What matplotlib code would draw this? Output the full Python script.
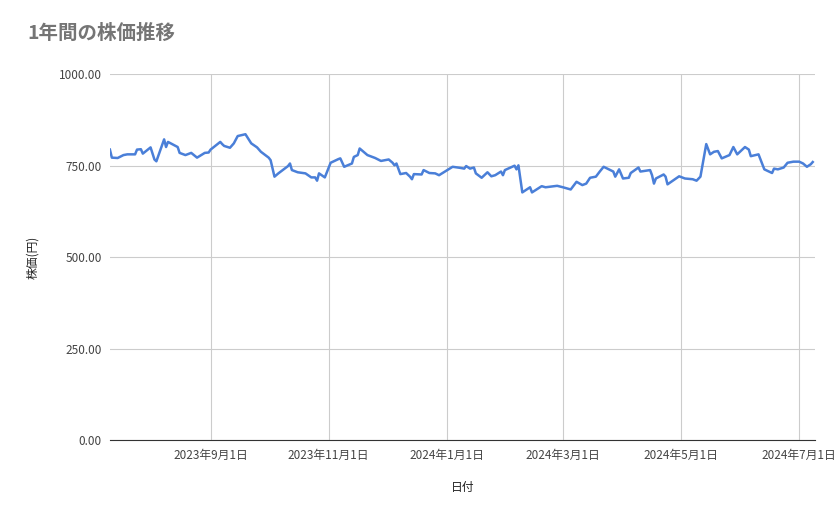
import matplotlib
matplotlib.use("Agg")
import matplotlib.pyplot as plt
import matplotlib.dates as mdates
import numpy as np
import datetime as dt

plt.rcParams['font.family'] = ['Noto Sans CJK JP', 'DejaVu Sans']

start_date = "2023-07-11"
day_offsets = [0,1,4,7,9,13,14,16,17,21,23,24,28,29,30,35,36,39,42,45,49,51,52,57,58,59,62,64,66,70,
               73,76,78,82,83,85,87,92,93,94,97,101,104,106,107,108,111,114,118,119,121,125,126,128,129,
               133,137,140,144,146,147,148,150,153,155,156,157,161,162,165,168,170,177,181,183,184,186,
               188,189,192,195,197,199,202,203,204,209,210,211,213,217,218,223,225,231,234,238,241,244,
               246,248,251,253,255,260,261,263,265,268,269,273,274,279,280,281,282,286,287,288,294,297,
               301,303,305,308,310,312,314,316,320,322,324,328,330,331,335,338,342,343,345,348,350,353,
               356,358,360,362,363]
prices = [794,772,771,779,781,781,794,795,783,800,767,762,822,801,815,801,785,779,785,772,785,786,794,815,809,804,799,811,831,836,
          811,800,788,772,765,720,729,749,756,738,732,729,718,718,709,729,718,758,768,770,747,756,774,779,797,
          779,771,763,767,758,751,756,727,730,720,713,727,726,738,730,729,724,747,744,742,749,742,
          745,729,717,732,721,724,734,724,738,750,740,751,677,691,677,694,691,695,691,685,706,697,
          701,717,720,734,747,734,720,740,715,717,730,745,734,738,724,701,715,726,720,699,721,715,
          713,709,720,809,781,788,790,770,779,801,781,801,794,776,781,740,730,742,740,745,758,761,
          761,756,747,754,760]

x_ticks = ["2023-09-01","2023-11-01","2024-01-01","2024-03-01","2024-05-01","2024-07-01"]
x_tick_labels = ["2023年9月1日","2023年11月1日","2024年1月1日","2024年3月1日","2024年5月1日","2024年7月1日"]
y_ticks = [0, 250, 500, 750, 1000]

s = dt.date.fromisoformat(start_date)
dates = [s + dt.timedelta(days=d) for d in day_offsets]

fig = plt.figure(figsize=(8.39, 5.19), dpi=100)
ax = fig.add_axes([0.131, 0.152, 0.84, 0.705])
ax.plot(dates, prices, color="#4a7fd8", lw=1.8)
ax.set_xlim(s - dt.timedelta(days=0.3), s + dt.timedelta(days=364.3))
ax.set_ylim(0, 1000)
ax.set_yticks(y_ticks)
ax.set_yticklabels([f"{v:.2f}" for v in y_ticks])
ax.set_xticks([dt.date.fromisoformat(t) for t in x_ticks])
ax.set_xticklabels(x_tick_labels)
ax.grid(True, color="#cccccc", lw=0.8)
ax.set_axisbelow(True)
for sp in ["top", "right", "left"]:
    ax.spines[sp].set_visible(False)
ax.spines["bottom"].set_color("#333333")
ax.tick_params(length=0, labelsize=8.5, colors="#444444", pad=6)
ax.set_xlabel("日付", fontsize=8.5, color="#222222", labelpad=14)
ax.set_ylabel("株価(円)", fontsize=8.5, color="#222222", labelpad=14)
fig.text(0.033, 0.925, "1年間の株価推移", fontsize=14, color="#757575", fontweight="bold")
fig.savefig("out.png", dpi=100)
